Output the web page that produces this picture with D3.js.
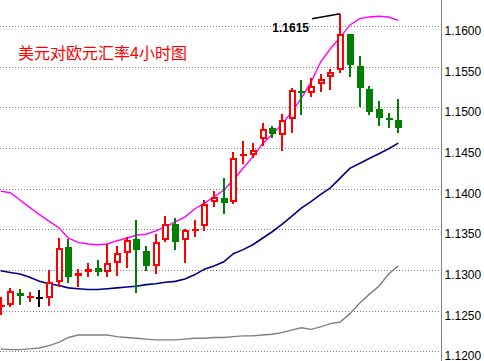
<!DOCTYPE html>
<html><head><meta charset="utf-8">
<script src="https://cdn.jsdelivr.net/npm/d3@7"></script>
<style>body{margin:0;background:#fff;} svg{display:block}</style>
</head><body><svg id="c" width="484" height="361"></svg>
<script>
const opens  = [1.1255,1.1257,1.1272,1.1266,1.1265,1.1266,1.1285,1.1328,1.1293,1.1297,1.1302,1.1297,1.1309,1.1321,1.1338,1.1323,1.1305,1.1337,1.1356,1.1337,1.1348,1.1354,1.1384,1.1388,1.1384,1.1440,1.1441,1.1461,1.1475,1.1466,1.1486,1.1519,1.1518,1.1529,1.1537,1.1546,1.1590,1.1551,1.1523,1.1498,1.1486,1.1484];
const highs  = [1.1267,1.1278,1.1277,1.1273,1.1275,1.1300,1.1339,1.1338,1.1301,1.1309,1.1312,1.1332,1.1329,1.1340,1.1361,1.1329,1.1344,1.1366,1.1364,1.1350,1.1361,1.1386,1.1397,1.1413,1.1445,1.1459,1.1456,1.1481,1.1477,1.1492,1.1524,1.1534,1.1536,1.1541,1.1547,1.1615,1.1590,1.1563,1.1526,1.1508,1.1493,1.1510];
const lows   = [1.1245,1.1254,1.1257,1.1261,1.1255,1.1256,1.1279,1.1284,1.1279,1.1291,1.1293,1.1291,1.1293,1.1302,1.1272,1.1299,1.1295,1.1334,1.1324,1.1309,1.1340,1.1348,1.1377,1.1369,1.1381,1.1430,1.1438,1.1452,1.1462,1.1446,1.1468,1.1491,1.1513,1.1519,1.1521,1.1542,1.1537,1.1500,1.1491,1.1477,1.1475,1.1468];
const closes = [1.1256,1.1274,1.1268,1.1267,1.1265,1.1285,1.1327,1.1291,1.1296,1.1301,1.1297,1.1309,1.1321,1.1337,1.1324,1.1305,1.1334,1.1356,1.1334,1.1349,1.1350,1.1381,1.1390,1.1382,1.1438,1.1441,1.1447,1.1473,1.1467,1.1484,1.1521,1.1517,1.1526,1.1535,1.1543,1.1590,1.1552,1.1524,1.1494,1.1487,1.1484,1.1475];
const upperBand = [1.1397,1.1395,1.1386,1.1377,1.1368,1.1360,1.1352,1.1339,1.1334,1.1332,1.1331,1.1332,1.1336,1.1339,1.1343,1.1344,1.1348,1.1353,1.1359,1.1365,1.1375,1.1382,1.1390,1.1398,1.1411,1.1425,1.1439,1.1455,1.1467,1.1479,1.1494,1.1511,1.1531,1.1556,1.1572,1.1586,1.1601,1.1609,1.1611,1.1612,1.1611,1.1607];
const midLine = [1.1299,1.1297,1.1295,1.1291,1.1286,1.1283,1.1281,1.1278,1.1277,1.1276,1.1276,1.1277,1.1278,1.1279,1.1280,1.1282,1.1283,1.1285,1.1286,1.1289,1.1294,1.1301,1.1305,1.1310,1.1320,1.1325,1.1331,1.1339,1.1347,1.1356,1.1366,1.1376,1.1384,1.1393,1.1401,1.1413,1.1425,1.1431,1.1437,1.1443,1.1449,1.1456];
const lowerBand = [1.1203,1.1202,1.1202,1.1203,1.1204,1.1207,1.1211,1.1217,1.1220,1.1220,1.1220,1.1220,1.1218,1.1217,1.1216,1.1215,1.1214,1.1214,1.1214,1.1215,1.1216,1.1216,1.1217,1.1217,1.1218,1.1219,1.1219,1.1220,1.1221,1.1223,1.1226,1.1229,1.1227,1.1230,1.1234,1.1236,1.1246,1.1259,1.1270,1.1280,1.1295,1.1305];
const tickValues = [1.1200,1.1250,1.1300,1.1350,1.1400,1.1450,1.1500,1.1550,1.1600];
const titleText = "美元对欧元汇率4小时图";

const W = 484, H = 361;
const svg = d3.select("#c");
svg.append("rect").attr("width", W).attr("height", H).attr("fill", "#fff");

const y = d3.scaleLinear().domain([1.12, 1.16]).range([351.3, 26]);
const x = d3.scalePoint().domain(d3.range(opens.length)).range([0.6, 398.3]);
const axisX = 441;

// grid
svg.append("g").selectAll("line").data(tickValues).join("line")
  .attr("x1", 0).attr("x2", axisX)
  .attr("y1", d => Math.round(y(d)) + 0.5).attr("y2", d => Math.round(y(d)) + 0.5)
  .attr("stroke", "#808080").attr("stroke-width", 1).attr("stroke-dasharray", "1,2");

// right axis
const ax = svg.append("g").attr("transform", `translate(${axisX},0)`)
  .call(d3.axisRight(y).tickValues(tickValues).tickSize(0).tickFormat(d3.format(".4f")));
ax.select(".domain").remove();
ax.selectAll("text").attr("x", 3.5).attr("dy", null)
  .attr("y", 8.5)
  .attr("font-family", "'Liberation Sans', Arial, sans-serif").attr("font-size", 12)
  .attr("fill", "#000").attr("text-anchor", "start");
svg.append("line").attr("x1", axisX + 0.5).attr("x2", axisX + 0.5).attr("y1", 0).attr("y2", H)
  .attr("stroke", "#808080").attr("stroke-width", 1);

// lines
const mk = arr => d3.line().x((d, i) => x(i)).y(d => y(d))(arr);
svg.append("path").attr("d", mk(lowerBand)).attr("fill", "none").attr("stroke", "#808080").attr("stroke-width", 1.4);
svg.append("path").attr("d", mk(midLine)).attr("fill", "none").attr("stroke", "#000080").attr("stroke-width", 1.6);
svg.append("path").attr("d", mk(upperBand)).attr("fill", "none").attr("stroke", "#ff00ff").attr("stroke-width", 1.4);

// candles
const cg = svg.append("g").attr("shape-rendering", "crispEdges");
opens.forEach((o, i) => {
  const c = closes[i];
  const col = c > o ? "#ff0000" : (c < o ? "#008000" : "#000000");
  const cx = Math.round(x(i));
  const L = cx - 3;
  const yH = Math.round(y(highs[i])), yL = Math.round(y(lows[i]));
  const yT = Math.round(y(Math.max(o, c))), yB = Math.round(y(Math.min(o, c)));
  cg.append("rect").attr("x", cx - 1).attr("y", yH).attr("width", 2).attr("height", Math.max(1, yL - yH)).attr("fill", col);
  const h = yB - yT;
  if (h < 3) {
    cg.append("rect").attr("x", L).attr("y", yT - (h < 2 ? 1 : 0)).attr("width", 7).attr("height", Math.max(2, h)).attr("fill", col);
  } else if (c > o) {
    cg.append("rect").attr("x", L + 1).attr("y", yT + 1).attr("width", 5).attr("height", h - 2)
      .attr("fill", "#fff").attr("stroke", col).attr("stroke-width", 2);
  } else {
    cg.append("rect").attr("x", L).attr("y", yT).attr("width", 7).attr("height", h).attr("fill", col);
  }
});

// high label
const hi = d3.maxIndex(highs);
const hx = Math.round(x(hi)), hy = y(highs[hi]);
svg.append("line").attr("x1", hx - 28).attr("y1", hy + 5).attr("x2", hx).attr("y2", hy)
  .attr("stroke", "#000").attr("stroke-width", 1.5);
svg.append("text").attr("x", hx - 31).attr("y", hy + 18).attr("text-anchor", "end")
  .attr("font-family", "'Liberation Sans', Arial, sans-serif").attr("font-size", 12).attr("font-weight", "bold")
  .attr("fill", "#000").text(d3.format(".4f")(highs[hi]));

// title
svg.append("text").attr("x", 18).attr("y", 59)
  .attr("font-family", "'Noto Sans CJK SC', sans-serif").attr("font-size", 16)
  .attr("fill", "#ff0000").text(titleText);
</script>
</body></html>
